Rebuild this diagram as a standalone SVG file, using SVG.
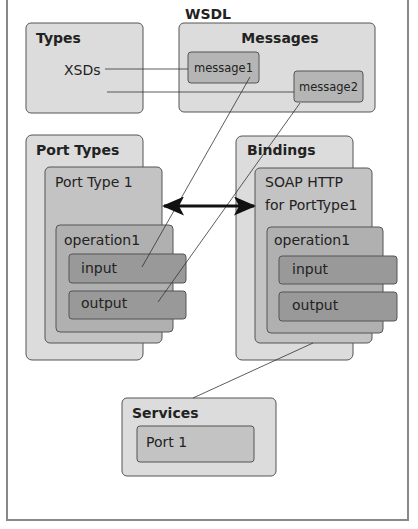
<svg xmlns="http://www.w3.org/2000/svg" width="418" height="529" viewBox="0 0 418 529">
<defs>
<style>
.frame{fill:#fff;stroke:#888;stroke-width:2}
.b1{fill:#dcdcdc;stroke:#555;stroke-width:1}
.b2{fill:#c3c3c3;stroke:#555;stroke-width:1}
.b3{fill:#b0b0b0;stroke:#555;stroke-width:1}
.b4{fill:#999;stroke:#555;stroke-width:1}
.bm{fill:#b5b5b5;stroke:#555;stroke-width:1}
text{font-family:"DejaVu Sans","Liberation Sans",sans-serif;fill:#222}
.h{font-weight:bold;font-size:14px}
.t{font-size:14px}
.s{font-size:11.5px}
.ln{stroke:#333;stroke-width:0.8;fill:none}
</style>
<marker id="ah" viewBox="0 0 22 19" refX="20" refY="9.5" markerWidth="22" markerHeight="19" orient="auto-start-reverse" markerUnits="userSpaceOnUse">
<path d="M0,0 L22,9.5 L0,19 L5,9.5 Z" fill="#111"/>
</marker>
</defs>
<rect class="frame" x="7" y="-5" width="401" height="525"/>
<text class="h" x="208" y="19" text-anchor="middle">WSDL</text>
<g id="types">
<rect class="b1" x="26" y="23" width="117" height="90" rx="5"/>
<text class="h" x="36" y="43">Types</text>
<text class="t" x="64" y="75">XSDs</text>
</g>
<g id="messages">
<rect class="b1" x="179" y="23" width="196" height="89" rx="5"/>
<text class="h" x="280" y="43" text-anchor="middle">Messages</text>
<g id="message1">
<rect class="bm" x="188" y="52" width="71" height="31" rx="3"/>
<text class="s" x="223.5" y="72" text-anchor="middle">message1</text>
</g>
<g id="message2">
<rect class="bm" x="294" y="71" width="69" height="31" rx="3"/>
<text class="s" x="328.5" y="91" text-anchor="middle">message2</text>
</g>
</g>
<g id="porttypes">
<rect class="b1" x="26" y="135" width="117" height="225" rx="6"/>
<text class="h" x="36" y="155">Port Types</text>
<g id="porttype1">
<rect class="b2" x="45" y="167" width="117" height="176" rx="5"/>
<text class="t" x="55" y="187">Port Type 1</text>
<g id="pt-operation1">
<rect class="b3" x="56" y="225" width="117" height="107" rx="4"/>
<text class="t" x="64" y="245">operation1</text>
<g id="pt-input"><rect class="b4" x="69" y="254" width="117" height="29" rx="3"/><text class="t" x="81" y="273">input</text></g>
<g id="pt-output"><rect class="b4" x="69" y="291" width="117" height="28" rx="3"/><text class="t" x="81" y="308">output</text></g>
</g>
</g>
</g>
<g id="bindings">
<rect class="b1" x="236" y="136" width="117" height="224" rx="6"/>
<text class="h" x="247" y="155">Bindings</text>
<g id="soaphttp">
<rect class="b2" x="255" y="168" width="117" height="175" rx="5"/>
<text class="t" x="265" y="187">SOAP HTTP</text>
<text class="t" x="265" y="210">for PortType1</text>
<g id="b-operation1">
<rect class="b3" x="267" y="227" width="116" height="106" rx="4"/>
<text class="t" x="274" y="245">operation1</text>
<g id="b-input"><rect class="b4" x="279" y="256" width="118" height="28" rx="3"/><text class="t" x="292" y="274">input</text></g>
<g id="b-output"><rect class="b4" x="279" y="292" width="118" height="29" rx="3"/><text class="t" x="292" y="310">output</text></g>
</g>
</g>
</g>
<g id="services">
<rect class="b1" x="122" y="398" width="154" height="78" rx="5"/>
<text class="h" x="132" y="418">Services</text>
<g id="port1">
<rect class="b2" x="137" y="426" width="117" height="36" rx="3"/>
<text class="t" x="146" y="447">Port 1</text>
</g>
</g>
<g id="connectors">
<line class="ln" x1="105" y1="69" x2="188" y2="69"/>
<line class="ln" x1="107" y1="92" x2="294" y2="92"/>
<line class="ln" x1="250" y1="77" x2="142" y2="267"/>
<line class="ln" x1="300" y1="103" x2="158" y2="302"/>
<line class="ln" x1="313" y1="343" x2="193" y2="398"/>
<line x1="164" y1="206" x2="254" y2="206" stroke="#111" stroke-width="3" marker-start="url(#ah)" marker-end="url(#ah)"/>
</g>
</svg>
